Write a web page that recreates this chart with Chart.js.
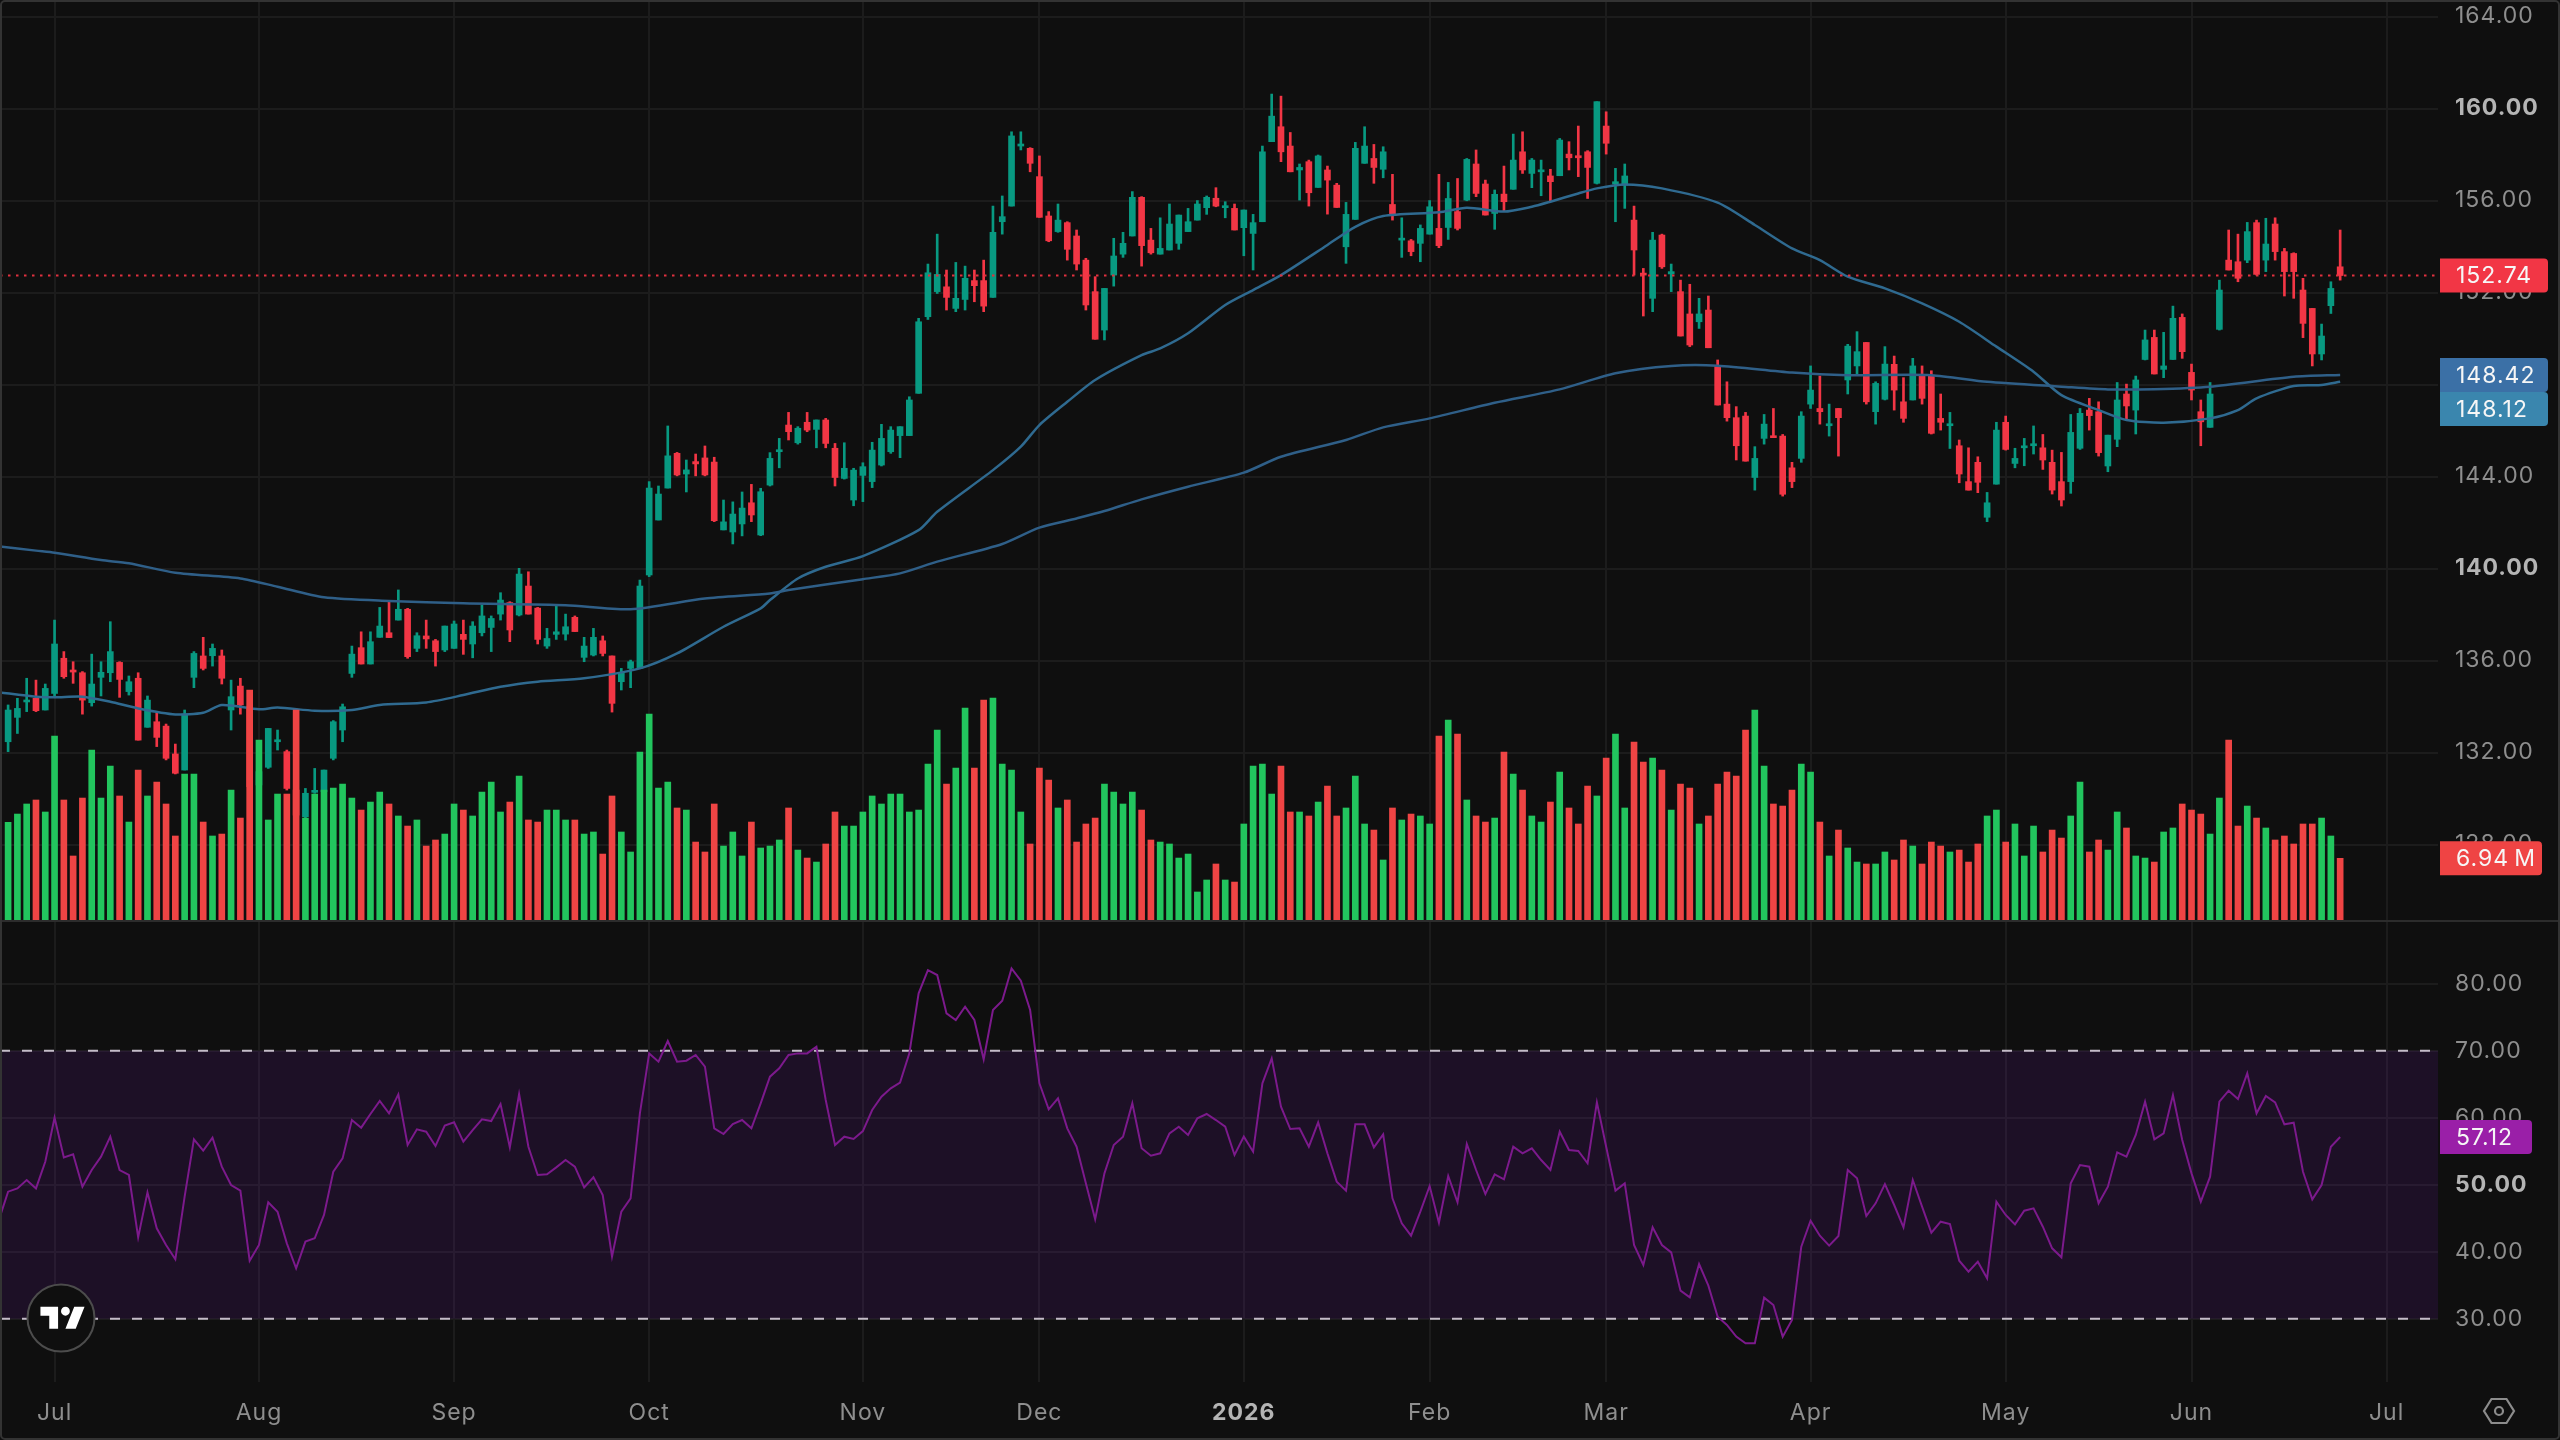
<!DOCTYPE html>
<html>
<head>
<meta charset="utf-8">
<title>Price, volume and RSI</title>
<script src="https://cdn.jsdelivr.net/npm/chart.js@4"></script>
<style>
  html, body { margin: 0; background: #0f0f0f; }
  #stage { position: relative; width: 2560px; height: 1440px; overflow: hidden; background: #0f0f0f; }
  canvas { position: absolute; left: 0; }
  #priceCanvas { top: 0; }
  #rsiCanvas { top: 922px; }
  #divider { position: absolute; left: 0; right: 0; top: 920px; height: 2px; background: #2c2c2c; }
  #frame { position: absolute; inset: 0; border: 2px solid #333; border-radius: 5px; pointer-events: none; }
  #logo { position: absolute; left: 26px; top: 1283px; }
  #gear { position: absolute; left: 2482px; top: 1396px; }
</style>
</head>
<body>
<div id="stage">
  <canvas id="priceCanvas" width="2560" height="920"></canvas>
  <canvas id="rsiCanvas" width="2560" height="518"></canvas>
  <div id="divider"></div>
  <div id="frame"></div>
  <svg id="logo" width="70" height="70" viewBox="0 0 70 70">
    <circle cx="35" cy="35" r="33.5" fill="#0f0f0f" stroke="#4c4c4c" stroke-width="2"/>
    <g transform="translate(11.5 15) scale(1.47)">
      <path fill="#fff" d="M14 6H2v6h6v9h6V6zm12 15h-7l6-15h7l-6 15zm-7-9a3 3 0 1 0 0-6 3 3 0 0 0 0 6z"/>
    </g>
  </svg>
  <svg id="gear" width="34" height="30" viewBox="0 0 34 30">
    <path d="M9.5 3h15L32 15l-7.500 12h-15L2 15z" fill="none" stroke="#8c8c8c" stroke-width="2.200"/>
    <circle cx="17" cy="15" r="4" fill="none" stroke="#8c8c8c" stroke-width="2.200"/>
  </svg>
</div>
<script>
const opens = [
  132.47,133.53,134.20,134.36,133.85,134.57,136.10,135.59,135.47,134.17,
  135.27,135.47,135.92,134.65,135.23,133.10,133.34,133.15,131.94,131.24,
  135.27,136.20,136.21,136.20,133.85,134.89,133.99,130.59,131.36,132.47,
  132.04,130.37,129.21,130.27,130.30,131.75,132.98,135.44,136.56,135.85,
  137.01,137.21,137.76,138.23,136.53,137.07,136.86,136.46,136.53,137.14,
  136.72,137.21,137.44,138.02,138.52,137.98,139.24,138.28,136.63,137.14,
  137.15,137.88,136.14,136.24,136.86,136.20,135.08,135.66,135.66,139.72,
  142.11,143.50,145.01,144.11,144.65,144.81,144.63,141.68,141.59,141.94,
  142.86,141.46,143.63,145.08,146.24,145.47,146.36,146.05,146.46,145.23,
  143.92,142.98,144.05,143.78,144.50,145.08,145.78,145.78,147.62,150.95,
  152.04,152.25,151.31,151.70,152.52,152.52,151.79,155.08,155.76,158.37,
  158.27,157.04,155.33,154.65,155.04,154.46,153.41,152.04,150.37,152.76,
  153.67,154.46,156.14,154.28,153.67,153.85,154.14,154.65,155.15,155.69,
  156.10,155.69,155.66,154.82,154.57,155.08,158.56,159.21,158.37,157.33,
  157.69,156.57,157.33,156.67,153.99,155.18,157.62,157.83,157.36,155.83,
  154.28,154.25,154.14,154.54,154.79,154.83,155.52,156.02,157.59,156.72,
  155.44,156.28,156.49,158.12,157.18,157.25,157.07,157.08,158.02,157.95,
  158.12,156.75,159.24,156.72,156.67,155.15,152.83,151.75,154.50,152.81,
  152.04,151.07,150.73,151.24,148.81,147.15,146.56,146.63,143.96,145.66,
  145.76,145.76,144.38,144.79,147.15,146.96,146.21,146.96,148.20,148.81,
  149.83,146.82,147.36,148.88,147.25,147.33,148.41,148.41,146.53,146.21,
  145.34,143.78,144.62,142.23,143.67,146.36,144.57,145.25,145.34,145.25,
  144.62,143.78,143.78,145.23,146.89,146.82,144.46,145.62,147.59,146.89,
  149.09,150.05,148.66,149.09,150.92,148.53,146.82,146.14,150.40,153.41,
  153.34,153.41,155.04,153.41,154.98,153.78,153.70,152.11,151.31,149.33,
  151.43,153.12
];
const highs = [
  134.07,134.36,135.23,135.15,134.98,137.76,136.39,135.95,135.52,136.28,
  135.95,137.69,135.95,135.33,135.47,134.46,133.78,133.24,132.37,133.85,
  136.39,137.01,136.72,136.46,135.15,135.23,134.57,131.38,133.05,132.98,
  132.11,130.52,130.44,131.31,131.24,133.39,134.11,136.63,137.25,137.25,
  138.31,138.56,139.07,138.27,137.21,137.76,136.92,137.50,137.72,137.76,
  137.69,138.41,137.94,138.95,138.56,140.01,139.86,138.31,137.40,138.41,
  138.02,137.94,137.01,137.40,137.07,136.20,135.66,136.02,139.50,143.78,
  143.59,146.20,145.05,144.72,144.98,145.33,144.84,142.98,142.90,143.33,
  143.66,143.49,145.04,145.66,146.79,146.17,146.79,146.46,146.53,145.44,
  145.47,144.36,144.60,145.49,146.27,146.17,146.17,147.47,150.88,153.24,
  154.54,152.98,153.31,153.15,152.98,153.41,155.76,156.20,158.99,158.99,
  158.30,157.94,155.52,155.85,155.08,154.72,153.49,152.69,152.18,154.36,
  154.62,156.39,156.17,154.79,155.25,155.85,155.37,155.66,156.00,156.20,
  156.56,155.95,155.85,155.59,155.40,158.37,160.63,160.54,158.96,157.59,
  157.76,157.98,157.50,156.75,155.92,158.53,159.21,158.44,158.34,157.14,
  155.25,154.31,154.94,156.00,157.14,156.79,156.96,157.83,158.20,156.89,
  156.46,157.50,158.89,158.99,157.83,157.76,157.36,158.70,158.56,159.24,
  158.17,160.30,159.86,157.40,157.59,155.76,153.05,154.62,154.54,153.24,
  152.54,152.36,151.75,151.85,149.07,148.12,147.04,146.79,145.30,146.70,
  146.96,145.83,144.62,146.82,148.81,148.37,147.15,146.96,149.75,150.30,
  149.83,148.12,149.65,149.24,148.30,149.14,148.81,148.60,147.59,146.79,
  145.59,145.25,144.86,143.31,146.36,146.63,145.23,145.66,146.20,145.83,
  145.15,145.05,146.70,146.96,147.40,147.25,145.80,148.09,148.02,148.37,
  150.37,150.37,150.27,151.41,151.07,148.89,147.33,148.09,152.54,154.72,
  154.54,155.05,155.15,155.23,155.25,153.92,153.73,152.62,151.31,150.63,
  152.47,154.72
];
const lows = [
  132.04,132.83,133.78,133.78,133.85,134.43,135.23,135.01,133.67,134.02,
  134.46,135.08,134.40,134.50,132.54,133.10,132.26,131.68,131.07,131.24,
  134.82,135.59,135.76,134.98,132.98,133.67,130.37,129.94,131.31,132.11,
  130.37,129.07,129.14,130.23,130.26,131.68,132.47,135.27,135.85,135.85,
  137.01,137.00,137.76,136.10,136.39,136.53,135.76,136.39,136.53,136.27,
  136.12,137.07,136.39,137.76,136.82,137.94,138.02,136.72,136.53,136.92,
  136.89,137.26,135.95,136.20,136.20,133.76,134.72,134.82,135.66,139.65,
  142.11,143.50,144.03,143.33,144.03,144.03,142.04,141.68,141.07,141.42,
  142.04,141.43,143.59,144.38,145.59,145.41,145.95,145.25,145.25,143.59,
  143.89,142.73,142.91,143.52,144.46,145.01,144.82,145.78,147.62,150.83,
  151.96,151.24,151.17,151.24,151.60,151.17,151.79,154.54,155.76,158.20,
  157.25,155.27,154.21,154.62,153.41,152.98,151.24,149.97,149.94,152.28,
  153.53,154.46,153.15,153.67,153.67,153.85,153.88,154.65,155.15,155.40,
  155.73,155.25,154.72,153.60,152.98,155.08,158.56,157.69,157.25,156.02,
  155.76,156.57,155.41,155.70,153.27,155.18,157.62,156.75,156.99,155.15,
  153.53,153.60,153.34,154.54,153.95,154.31,154.72,155.99,156.17,155.37,
  154.75,155.52,156.49,157.18,156.56,156.21,155.95,157.08,157.33,157.04,
  156.09,156.72,158.02,155.08,155.66,152.76,150.98,151.17,153.05,152.04,
  150.11,149.65,150.44,149.60,147.11,146.41,144.72,144.67,143.41,145.41,
  145.69,143.15,143.52,144.62,146.96,146.28,145.76,144.89,147.59,148.41,
  147.15,146.28,147.33,146.89,146.36,147.33,147.15,145.85,146.02,145.22,
  143.73,143.41,143.30,142.04,143.67,145.15,144.38,144.47,144.98,144.31,
  143.24,142.72,143.27,145.18,146.02,144.89,144.21,145.30,146.49,145.85,
  149.07,148.46,148.30,149.09,149.14,147.33,145.34,146.14,150.37,152.98,
  152.47,153.30,152.76,152.91,153.41,151.85,151.75,150.04,148.81,149.07,
  151.09,152.54
];
const closes = [
  133.85,133.92,134.28,133.82,134.79,136.72,135.30,135.50,134.28,134.98,
  135.49,136.39,135.18,135.08,132.54,134.28,132.66,131.75,131.10,133.68,
  136.31,135.66,136.53,135.23,134.43,134.07,130.52,131.17,133.05,132.54,
  130.44,129.28,130.23,130.34,131.24,133.34,133.99,136.28,135.85,136.82,
  137.50,137.00,138.23,136.17,137.08,136.94,136.39,137.50,137.59,136.92,
  137.50,137.94,137.83,138.63,137.33,139.76,138.02,136.92,136.96,137.25,
  137.47,137.26,136.63,137.01,136.31,134.14,135.47,135.95,139.24,143.50,
  143.24,144.90,144.07,144.29,144.55,144.07,142.08,142.03,142.37,142.63,
  142.33,143.34,144.79,145.15,145.95,146.10,146.02,146.46,145.44,143.96,
  144.36,144.28,144.43,145.15,145.66,146.02,146.17,147.33,150.73,152.86,
  152.79,151.79,151.75,152.62,152.30,151.41,154.62,155.30,158.81,158.46,
  157.62,155.27,154.25,155.15,153.88,153.24,151.46,149.97,152.18,153.59,
  154.14,156.14,154.04,153.73,153.92,154.98,155.37,155.08,155.85,156.14,
  155.76,155.76,154.72,155.59,155.04,158.12,159.67,158.12,157.25,157.44,
  156.34,157.94,156.89,155.70,155.40,158.27,158.37,157.44,158.12,155.41,
  154.36,153.78,154.79,155.73,154.04,156.09,154.79,157.79,156.31,155.37,
  156.27,155.95,157.76,157.33,157.76,157.33,156.82,158.63,157.86,157.86,
  157.44,160.30,158.49,156.82,157.07,153.85,152.76,154.28,153.12,152.91,
  150.11,149.72,151.07,149.60,147.11,146.56,145.34,144.67,144.79,146.28,
  145.69,143.23,143.78,146.63,147.76,146.82,146.27,146.56,149.67,149.43,
  147.25,148.05,148.89,147.76,146.53,148.81,147.40,145.88,146.36,146.28,
  144.11,143.41,143.75,142.86,146.02,145.18,144.79,145.33,145.41,144.72,
  143.41,142.98,145.92,146.75,146.65,145.04,145.80,147.33,147.07,148.20,
  149.94,148.46,148.81,150.88,149.43,147.76,146.38,147.59,152.11,152.98,
  152.62,154.65,152.79,154.11,153.78,152.91,152.91,150.66,149.33,150.11,
  152.18,152.74
];
// shares traded per session, in millions
const volumes = [
  10.99,11.92,13.05,13.50,12.15,20.70,13.50,7.20,13.72,19.12,
  13.72,17.32,13.95,11.02,16.87,13.95,15.52,13.05,9.45,16.42,
  16.42,11.02,9.45,9.67,14.62,11.47,25.87,20.25,11.25,14.17,
  14.17,23.62,11.47,14.17,14.62,14.85,15.30,13.72,12.37,13.27,
  14.40,13.05,11.70,10.57,11.25,8.32,9.00,9.67,13.05,12.37,
  11.70,14.40,15.52,12.15,13.27,16.20,11.25,11.02,12.37,12.37,
  11.25,11.25,9.67,9.90,7.42,13.95,9.90,7.65,18.90,23.17,
  14.85,15.52,12.60,12.37,8.77,7.65,13.05,8.32,9.90,7.20,
  11.02,8.10,8.32,9.00,12.60,7.87,6.97,6.52,8.55,12.15,
  10.57,10.57,12.15,13.95,13.05,14.17,14.17,12.15,12.37,17.55,
  21.37,15.30,17.10,23.85,17.10,24.75,24.97,17.55,16.87,12.15,
  8.55,17.10,15.75,12.60,13.50,8.77,10.80,11.47,15.30,14.40,
  13.05,14.40,12.37,9.00,8.77,8.55,6.97,7.42,3.15,4.50,
  6.30,4.50,4.27,10.80,17.32,17.55,14.17,17.32,12.15,12.15,
  11.70,13.27,15.07,11.70,12.60,16.20,10.80,10.12,6.75,12.60,
  11.25,11.92,11.70,10.80,20.70,22.50,20.92,13.50,11.70,11.02,
  11.47,18.90,16.42,14.62,11.70,11.02,13.27,16.65,12.60,10.80,
  15.07,13.95,18.22,20.92,12.60,20.02,17.77,18.22,16.87,12.37,
  15.30,14.85,10.80,11.70,15.30,16.65,16.20,21.37,23.62,17.32,
  13.05,12.82,14.62,17.55,16.65,11.02,7.20,10.12,8.10,6.52,
  6.30,6.30,7.65,6.75,9.00,8.32,6.30,8.77,8.32,7.65,
  7.87,6.52,8.55,11.70,12.37,8.77,10.80,7.20,10.57,7.65,
  10.12,9.22,11.70,15.52,7.65,9.00,7.87,12.15,10.35,7.20,
  6.97,6.52,9.90,10.35,13.05,12.37,11.92,9.67,13.72,20.25,
  10.57,12.82,11.47,10.35,9.00,9.45,8.55,10.80,10.80,11.47,
  9.45,6.94
];
const rsiBeforeFirst = 44.7;
const rsiValues = [
  48.96,49.45,50.70,49.45,53.43,60.00,54.08,54.53,49.70,52.19,
  54.18,57.17,52.19,51.45,42.14,48.86,43.49,41.00,38.86,48.21,
  56.77,55.08,57.02,52.69,49.95,49.11,38.66,41.00,47.37,45.97,
  41.25,37.51,41.50,42.00,45.48,51.94,53.93,59.65,58.51,60.55,
  62.49,60.65,63.49,55.92,58.26,57.91,55.77,58.81,59.31,56.42,
  58.16,59.75,59.50,62.04,55.57,63.54,55.67,51.45,51.55,52.59,
  53.68,52.69,49.60,51.10,48.46,39.26,45.97,47.96,60.65,69.60,
  68.36,71.45,68.36,68.51,69.36,67.61,58.41,57.56,59.06,59.65,
  58.41,62.14,66.12,67.37,69.36,69.60,69.60,70.60,62.64,55.92,
  57.17,56.82,58.01,61.15,63.14,64.38,65.23,69.60,78.56,82.04,
  81.30,75.57,74.58,76.57,74.58,68.71,76.07,77.47,82.29,80.45,
  76.07,65.13,61.25,62.89,58.41,55.67,50.20,44.83,51.69,55.92,
  57.17,62.14,55.43,54.33,54.68,57.66,58.66,57.42,59.90,60.55,
  59.65,58.66,54.43,57.17,54.93,65.13,68.86,61.65,58.31,58.41,
  55.67,59.31,54.68,50.45,49.11,59.01,59.01,55.57,57.52,47.96,
  44.23,42.39,45.97,49.80,44.33,51.30,47.37,56.07,52.19,48.61,
  51.55,50.80,55.67,54.68,55.43,53.68,52.19,57.91,55.18,55.03,
  53.19,62.29,55.67,49.11,50.20,41.00,38.01,43.63,41.00,39.90,
  34.18,33.19,38.16,34.93,30.30,29.06,27.32,26.32,26.32,33.14,
  32.04,27.32,29.80,40.75,44.63,42.39,40.90,42.34,52.19,50.95,
  45.33,47.22,50.10,46.97,43.63,50.70,46.72,42.84,44.48,44.13,
  38.66,37.02,38.51,36.02,47.47,45.48,44.08,46.12,46.47,43.73,
  40.50,39.16,50.20,52.94,52.69,47.22,49.70,54.83,54.18,57.42,
  62.39,56.77,57.66,63.39,56.67,51.69,47.47,51.20,62.39,64.03,
  62.79,66.62,60.65,63.24,62.29,59.01,59.26,51.94,47.81,49.95,
  55.67,57.12
];
// moving averages, read at the sessions listed in the *Bars arrays
const maSlowBars = [-1,3,5,10,13,18,25,29,34,41,49,60,67,75,82,84,92,96,100,107,111,115,118,122,127,133,137,144,148,153,160,167,173,179,184,192,198,207,213,221,226,231,237,246,251];
const maSlowValues = [140.97,140.78,140.69,140.37,140.23,139.82,139.57,139.21,138.75,138.59,138.49,138.41,138.23,138.70,138.92,139.07,139.54,139.79,140.30,141.07,141.78,142.18,142.50,143.01,143.56,144.17,144.86,145.59,146.14,146.53,147.21,147.79,148.49,148.81,148.82,148.52,148.41,148.41,148.12,147.91,147.79,147.80,147.91,148.34,148.42];
const maFastBars = [-1,3,5,8,11,14,18,21,23,27,29,33,37,40,45,49,53,57,62,68,72,77,81,82,85,88,92,98,100,106,109,111,114,117,122,124,127,131,134,137,142,145,148,154,157,161,164,166,169,171,174,178,184,188,192,195,198,202,206,210,214,218,221,225,228,232,237,240,242,246,249,251];
const maFastValues = [134.62,134.43,134.40,134.43,134.21,133.92,133.66,133.73,134.07,133.88,133.96,133.82,133.85,134.07,134.18,134.50,134.86,135.08,135.23,135.66,136.31,137.47,138.27,138.63,139.57,140.08,140.54,141.67,142.47,144.28,145.30,146.24,147.25,148.20,149.28,149.57,150.23,151.46,152.11,152.76,154.07,154.86,155.33,155.49,155.69,155.52,155.73,155.95,156.31,156.53,156.70,156.53,155.91,154.94,153.92,153.41,152.69,152.18,151.53,150.73,149.65,148.56,147.54,146.89,146.46,146.34,146.53,146.89,147.40,147.94,147.98,148.12];
// first session of each month
const monthBars = [5,27,48,69,92,111,133,153,172,194,215,235,256];
const monthLabels = ['Jul','Aug','Sep','Oct','Nov','Dec','2026','Feb','Mar','Apr','May','Jun','Jul'];
const priceTicks = [164,160,156,152,148,144,140,136,132,128];
const rsiTicks = [80,70,60,50,40,30];
const boldPrices = [160, 140];
const boldRsi = [50];

// visible window of both panes, in session numbers
const X_MIN = -0.872;
const X_MAX = 261.53;
const UP = '#089981', DOWN = '#f23645';
const VOL_UP = '#22c55e', VOL_DOWN = '#ef4444';
const GRID = '#1c1c1c';
const FONT = 'Inter, "Noto Sans", sans-serif';
const FONT_SIZE = 23;
const last = closes.length - 1;
const isUp = closes.map((c, i) => c >= opens[i]);
const candleColors = isUp.map(u => u ? UP : DOWN);

const tickFont = bold => ({ family: FONT, size: FONT_SIZE, weight: bold ? '700' : '400' });
const tickColor = bold => bold ? '#b4b4b4' : '#8e8e8e';

// chart.js reserves room for half a tick label at the ends of an axis; the panes run edge to edge
const noPadding = axis => { axis.paddingTop = axis.paddingBottom = axis.paddingLeft = axis.paddingRight = 0; };

const xScale = (showLabels) => ({
    type: 'linear', min: X_MIN, max: X_MAX, offset: false,
    border: { display: false },
    grid: { color: GRID, lineWidth: 2, drawTicks: false, offset: false },
    afterBuildTicks: axis => { axis.ticks = monthBars.map(v => ({ value: v })); },
    afterFit: axis => { axis.height = showLabels ? 58 : 0; noPadding(axis); },
    ticks: {
        display: showLabels, autoSkip: false, maxRotation: 0, padding: 17,
        callback: (v, i) => monthLabels[i],
        font: ctx => tickFont(monthLabels[ctx.index] === '2026'),
        color: ctx => tickColor(monthLabels[ctx.index] === '2026')
    }
});

const yScale = (min, max, values, bolds) => {
    const isBold = ctx => !!ctx.tick && bolds.includes(ctx.tick.value);
    return {
        type: 'linear', position: 'right', min, max,
        border: { display: false },
        grid: { color: GRID, lineWidth: 2, drawTicks: false },
        afterBuildTicks: axis => { axis.ticks = values.map(v => ({ value: v })); },
        afterFit: axis => { axis.width = 122; noPadding(axis); },
        ticks: {
            autoSkip: false, padding: 17, crossAlign: 'near',
            callback: v => v.toFixed(2),
            font: ctx => tickFont(isBold(ctx)),
            color: ctx => tickColor(isBold(ctx))
        }
    };
};

const spacedText = { id: 'spacedText', beforeDraw: chart => { chart.ctx.letterSpacing = '1px'; } };

// value tags on the right hand axis, pushed down when two of them would collide
const drawTags = (chart, tags) => {
    const { ctx } = chart;
    let prevY = -Infinity;
    ctx.save();
    tags.forEach(t => {
        const y = Math.max(chart.scales[t.axis].getPixelForValue(t.value), prevY + 34);
        prevY = y;
        ctx.fillStyle = t.color;
        ctx.beginPath();
        ctx.roundRect(2440, y - 17, t.width, 34, [0, 4, 4, 0]);
        ctx.fill();
        ctx.fillStyle = '#f6f6f6';
        ctx.font = `400 ${FONT_SIZE}px ${FONT}`;
        ctx.textAlign = 'left';
        ctx.textBaseline = 'middle';
        ctx.fillText(t.text, 2456, y + 1);
    });
    ctx.restore();
};

const maLine = (bars, values, color) => ({
    type: 'line', yAxisID: 'price', order: 3,
    data: bars.map((b, i) => ({ x: b, y: values[i] })),
    borderColor: color, borderWidth: 2.5, pointRadius: 0, tension: 0.25
});

const priceTags = [
    { axis: 'price', value: closes[last], text: closes[last].toFixed(2), color: DOWN, width: 108 },
    { axis: 'price', value: maSlowValues[maSlowValues.length - 1], text: maSlowValues[maSlowValues.length - 1].toFixed(2), color: '#3b70a6', width: 108 },
    { axis: 'price', value: maFastValues[maFastValues.length - 1], text: maFastValues[maFastValues.length - 1].toFixed(2), color: '#3a86ae', width: 108 }
];
const volumeTags = [
    { axis: 'volume', value: volumes[last], text: volumes[last].toFixed(2) + '\u2009M', color: isUp[last] ? VOL_UP : VOL_DOWN, width: 102 }
];

new Chart(document.getElementById('priceCanvas'), {
    type: 'bar',
    data: {
        datasets: [
            // wicks and bodies are floating bars on the same axis
            { yAxisID: 'price', order: 5, grouped: false, barThickness: 2,
              data: highs.map((h, i) => ({ x: i, y: [lows[i], h] })), backgroundColor: candleColors },
            { yAxisID: 'price', order: 4, grouped: false, barThickness: 6, minBarLength: 2,
              data: opens.map((o, i) => ({ x: i, y: [o, closes[i]] })), backgroundColor: candleColors },
            maLine(maSlowBars, maSlowValues, '#2f5f88'),
            maLine(maFastBars, maFastValues, '#2f6a90'),
            { type: 'line', yAxisID: 'price', order: 2,
              data: [{ x: X_MIN, y: closes[last] }, { x: X_MAX, y: closes[last] }],
              borderColor: '#e0303f', borderWidth: 2, borderDash: [2.500, 5.500], pointRadius: 0 },
            { yAxisID: 'volume', order: 1, grouped: false, barThickness: 6,
              data: volumes.map((v, i) => ({ x: i, y: v })),
              backgroundColor: isUp.map(u => u ? VOL_UP : VOL_DOWN) }
        ]
    },
    options: {
        responsive: false, animation: false, devicePixelRatio: 1,
        layout: { padding: 0 },
        plugins: { legend: { display: false }, tooltip: { enabled: false } },
        scales: {
            x: xScale(false),
            price: yScale(124.72, 164.72, priceTicks, boldPrices),
            volume: { type: 'linear', display: false, min: 0, max: 103.5 }
        }
    },
    plugins: [spacedText, { id: 'priceTags', afterDraw: chart => { drawTags(chart, volumeTags); drawTags(chart, priceTags); } }]
});

new Chart(document.getElementById('rsiCanvas'), {
    type: 'line',
    data: {
        datasets: [
            { data: [{ x: -1, y: rsiBeforeFirst }, ...rsiValues.map((v, i) => ({ x: i, y: v }))], yAxisID: 'rsi', order: 1,
              borderColor: '#7c1a8c', borderWidth: 2, pointRadius: 0 },
            { data: [{ x: X_MIN, y: 70 }, { x: X_MAX, y: 70 }], yAxisID: 'rsi', order: 2,
              borderColor: '#c4bcc8', borderWidth: 2, borderDash: [10, 12], pointRadius: 0 },
            { data: [{ x: X_MIN, y: 30 }, { x: X_MAX, y: 30 }], yAxisID: 'rsi', order: 3,
              borderColor: '#c4bcc8', borderWidth: 2, borderDash: [10, 12], pointRadius: 0,
              fill: { target: { value: 70 } }, backgroundColor: 'rgba(125,20,190,0.13)' }
        ]
    },
    options: {
        responsive: false, animation: false, devicePixelRatio: 1,
        layout: { padding: 0 },
        plugins: { legend: { display: false }, tooltip: { enabled: false } },
        scales: {
            x: xScale(true),
            rsi: yScale(20.55, 89.21, rsiTicks, boldRsi)
        }
    },
    plugins: [spacedText, { id: 'rsiTag', afterDraw: chart => drawTags(chart, [
        { axis: 'rsi', value: rsiValues[last], text: rsiValues[last].toFixed(2), color: '#9a1fa8', width: 92 }
    ]) }]
});
</script>
</body>
</html>
